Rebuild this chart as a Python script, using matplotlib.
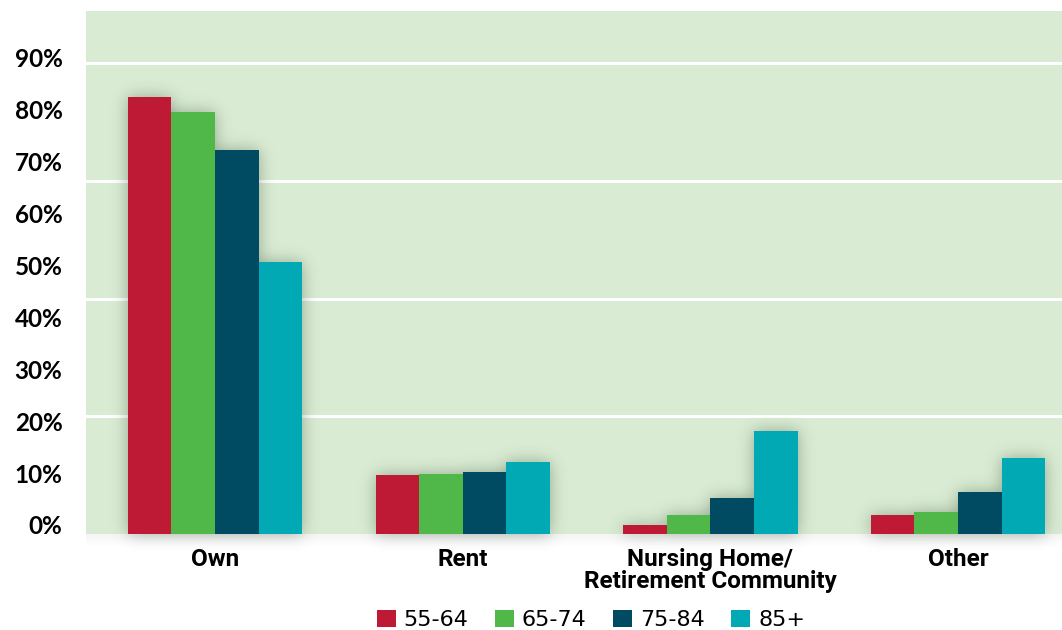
import matplotlib.pyplot as plt
from matplotlib.patches import Rectangle
import numpy as np

# data (percent of respondents)
categories = ['Own', 'Rent', 'Nursing Home/\nRetirement Community', 'Other']
age_groups = ['55-64', '65-74', '75-84', '85+']
vals_55_64 = [74.3, 10.0, 1.5, 3.2]
vals_65_74 = [71.7, 10.2, 3.2, 3.7]
vals_75_84 = [65.2, 10.5, 6.1, 7.1]
vals_85_up = [46.2, 12.2, 17.5, 12.9]
tick_labels = ['0%', '10%', '20%', '30%', '40%', '50%', '60%', '70%', '80%', '90%']

colors = ['#be1a36', '#50b848', '#004b62', '#00a9b3']
bg = '#d9ebd3'

W, H = 1062, 630
fig = plt.figure(figsize=(W / 100, H / 100), dpi=100)
ax = fig.add_axes([86 / W, 96.3 / H, 1 - 86 / W, 522.7 / H])
ax.set_facecolor(bg)

series = [vals_55_64, vals_65_74, vals_75_84, vals_85_up]
w = 0.176
x = np.arange(len(categories))
xlim = (-0.521, 3.42)
ylim = (0, 88.9)
ax.set_xlim(*xlim)
ax.set_ylim(*ylim)

bars = []
for i, vals in enumerate(series):
    xs = x + (i - 1.5) * w
    bars.append(ax.bar(xs, vals, width=w, color=colors[i], zorder=3, label=age_groups[i]))

# soft drop shadow: blur a mask of the bars (in pixel space)
mask = np.zeros((H, W))
for bc in bars:
    for r in bc:
        (x0, y0), (x1, y1) = ax.transData.transform(
            [(r.get_x(), r.get_y()), (r.get_x() + r.get_width(), r.get_height())])
        mask[int(round(y0)):int(round(y1)), int(round(x0)):int(round(x1))] = 1.0
s = 8.0
k = np.arange(-30, 31)
kern = np.exp(-k ** 2 / (2 * s * s))
kern /= kern.sum()
blur = np.apply_along_axis(lambda v: np.convolve(v, kern, mode='same'), 0, mask)
blur = np.apply_along_axis(lambda v: np.convolve(v, kern, mode='same'), 1, blur)
shadow = np.zeros((H, W, 4))
shadow[..., 0] = 0.12
shadow[..., 1] = 0.22
shadow[..., 2] = 0.12
shadow[..., 3] = np.clip(blur * 0.38, 0, 1)
inv = ax.transData.inverted()
(ex0, ey0), (ex1, ey1) = inv.transform([(0, 0), (W, H)])
ax.imshow(shadow, extent=(ex0, ex1, ey0, ey1), origin='lower', aspect='auto',
          zorder=1.5, clip_on=False, interpolation='bilinear')
ax.set_xlim(*xlim)
ax.set_ylim(*ylim)

# faint shadow below the plot area
for j in range(12):
    ax.add_patch(Rectangle((0, -0.002 * (j + 1)), 1, 0.002, transform=ax.transAxes,
                           color='k', alpha=0.04 * (1 - j / 12), lw=0, clip_on=False,
                           zorder=0.5))

for g in [20, 40, 60, 80]:
    ax.axhline(g, color='white', lw=2.2, zorder=1)

# the reference's y labels are spaced independently of the gridlines
label_base = 1.48
label_step = 8.84
ax.set_yticks([label_base + label_step * i for i in range(len(tick_labels))])
ax.set_yticklabels(tick_labels, fontfamily='Lato', fontweight='bold', fontsize=17.5)
ax.tick_params(axis='y', length=0, pad=17)

ax.set_xticks(x)
ax.set_xticklabels(categories, fontfamily='Roboto', fontweight='bold',
                   fontsize=17.5)
for t in ax.get_xticklabels():
    t.set_linespacing(0.95)
ax.tick_params(axis='x', length=0, pad=10)

for sp in ax.spines.values():
    sp.set_visible(False)

leg = fig.legend(loc='center', bbox_to_anchor=(591 / W, 10 / H), ncol=4,
                 frameon=False, prop={'family': 'DejaVu Sans', 'size': 16},
                 handlelength=0.85, handleheight=0.85, handletextpad=0.35,
                 columnspacing=1.2)

fig.savefig('out.png', dpi=100)
